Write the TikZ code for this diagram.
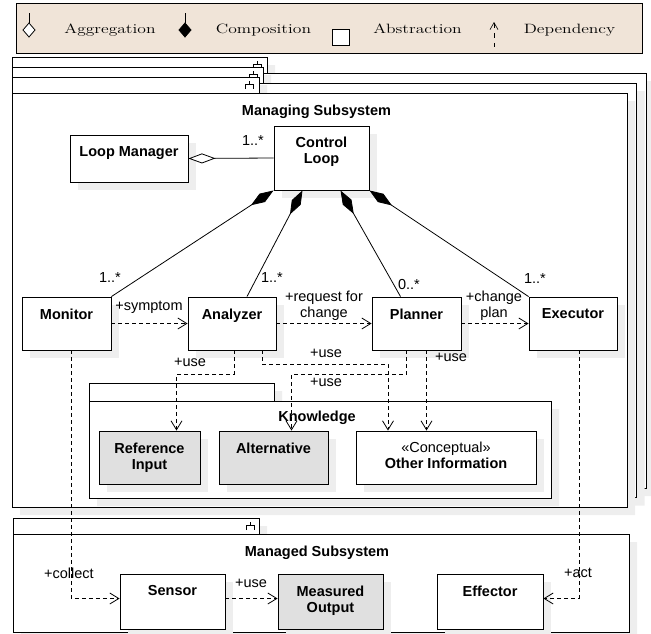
\documentclass[tikz,border=0pt]{standalone}
\usepackage{fontspec}
\usepackage{graphicx}
\usetikzlibrary{arrows.meta,shadows,positioning}
\newfontfamily\umlfont{Liberation Sans}
\newcommand\umltext{\umlfont\fontsize{14.5}{16}\selectfont}
\definecolor{legendbg}{RGB}{240,228,216}
\definecolor{shadowgray}{RGB}{238,238,238}
\definecolor{datagray}{RGB}{224,224,224}
\tikzset{
  umlshadow/.style={general shadow={fill=shadowgray, shadow xshift=8pt, shadow yshift=-8pt}},
  frame/.style={draw, fill=white, line width=0.9pt, umlshadow},
  classbox/.style={draw, fill=white, line width=0.9pt, inner sep=0pt, umlshadow},
  databox/.style={classbox, fill=datagray},
  classname/.style={font=\umltext\bfseries, align=center, inner sep=0pt},
  mult/.style={font=\umltext, inner sep=1pt},
  dep/.style={line width=0.8pt, dash pattern=on 4pt off 3pt, -{Straight Barb[length=9pt,width=11pt]}},
  comp/.style={line width=0.8pt, {Diamond[length=27pt,width=10pt,fill=black]}-},
  aggr/.style={line width=0.8pt, {Diamond[length=27pt,width=10pt,fill=white]}-},
  legendtext/.style={font=\normalfont\fontsize{13.5}{16}\selectfont, anchor=base, inner sep=0pt}
}
\begin{document}
\begin{tikzpicture}[x=1pt, y=-1pt]
  \useasboundingbox (0,0) rectangle (651,633);

  \draw[line width=1pt, fill=legendbg] (16,3) rectangle (642,53);
  \draw[line width=0.8pt] (29,13) -- (29,23);
  \draw[line width=0.8pt, fill=white] (29,23) -- (35,30) -- (29,37) -- (23,30) -- cycle;
  \node[legendtext] (lgAgg) at (110,33) {\scalebox{1.3}[1]{Aggregation}};
  \draw[line width=0.8pt] (185,13) -- (185,23);
  \draw[line width=0.8pt, fill=black] (185,23) -- (191,30) -- (185,37) -- (179,30) -- cycle;
  \node[legendtext] (lgComp) at (263.5,33) {\scalebox{1.3}[1]{Composition}};
  \draw[line width=0.8pt, fill=white] (332,29) rectangle (349,45);
  \node[legendtext] (lgAbs) at (417.5,33) {\scalebox{1.3}[1]{Abstraction}};
  \draw[line width=0.6pt, dash pattern=on 5pt off 5pt, {Straight Barb[length=7pt,width=8pt]}-] (494,22) -- (494,47);
  \node[legendtext] (lgDep) at (569.5,33) {\scalebox{1.3}[1]{Dependency}};

  \draw[frame] (12,57) -| (267,73) -| (646,488) -| cycle;
  \draw[line width=0.9pt] (12,73) -- (267,73);
  \draw[line width=0.8pt] (257,61) -- (257,64) (253,69) |- (261,64) -- (261,69);
  \draw[frame] (12,67) -| (263,83) -| (636.5,497.5) -| cycle;
  \draw[line width=0.9pt] (12,83) -- (263,83);
  \draw[line width=0.8pt] (253,71) -- (253,74) (249,79) |- (257,74) -- (257,79);
  \draw[frame] (12,77) -| (259,93) -| (627,507) -| cycle;
  \draw[line width=0.9pt] (12,93) -- (259,93);
  \draw[line width=0.8pt] (249,81) -- (249,84) (245,89) |- (253,84) -- (253,89);
  \node[classname] (mgTitle) at (316.5,112) {Managing Subsystem};

  \draw[frame] (89,383) -| (274,401) -| (551,498) -| cycle;
  \draw[line width=0.9pt] (89,401) -- (274,401);
  \node[classname] (knTitle) at (317,418) {Knowledge};

  \draw[frame] (13,518) -| (259,534) -| (629,632) -| cycle;
  \draw[line width=0.9pt] (13,534) -- (259,534);
  \draw[line width=0.8pt] (250,522) -- (250,525) (246,530) |- (254,525) -- (254,530);
  \node[classname] (mdTitle) at (317,553) {Managed Subsystem};

  \node[classbox, minimum width=118pt, minimum height=47pt] (lm) at (129,158.5) {};
  \node[classname, below=12pt of lm.north] (lmT) {Loop Manager};
  \node[classbox, minimum width=95pt, minimum height=64pt] (cl) at (321.5,158) {};
  \node[classname, below=11pt of cl.north] (clT) {Control\\Loop};
  \node[classbox, minimum width=89pt, minimum height=53pt] (mon) at (66.5,323.5) {};
  \node[classname, below=12pt of mon.north] (monT) {Monitor};
  \node[classbox, minimum width=88pt, minimum height=53pt] (ana) at (232,323.5) {};
  \node[classname, below=12pt of ana.north] (anaT) {Analyzer};
  \node[classbox, minimum width=89pt, minimum height=53pt] (pla) at (416.5,323.5) {};
  \node[classname, below=12pt of pla.north] (plaT) {Planner};
  \node[classbox, minimum width=88pt, minimum height=53pt] (exe) at (573,323.5) {};
  \node[classname, below=12pt of exe.north] (exeT) {Executor};
  \node[databox, minimum width=101pt, minimum height=53pt] (ref) at (149.5,457.5) {};
  \node[classname, below=12pt of ref.north] (refT) {Reference\\Input};
  \node[databox, minimum width=109pt, minimum height=53pt] (alt) at (273.5,457.5) {};
  \node[classname, below=12pt of alt.north] (altT) {Alternative};
  \node[classbox, minimum width=180pt, minimum height=53pt] (oth) at (446,457.5) {};
  \node[classname, below=11pt of oth.north] (othT) {{\mdseries «Conceptual»}\\Other Information};
  \node[classbox, minimum width=105pt, minimum height=55pt] (sen) at (172.5,601.5) {};
  \node[classname, below=12pt of sen.north] (senT) {Sensor};
  \node[databox, minimum width=105pt, minimum height=55pt] (mo) at (330.5,601.5) {};
  \node[classname, below=12pt of mo.north] (moT) {Measured\\Output};
  \node[classbox, minimum width=106pt, minimum height=55pt] (eff) at (490,601.5) {};
  \node[classname, below=12pt of eff.north] (effT) {Effector};

  \draw[aggr] (lm.east) -- (cl.west);
  \draw[comp] (cl.south west) -- (mon.north east);
  \draw[comp] ([xshift=-19pt]cl.south) -- ([xshift=15pt]ana.north);
  \draw[comp] ([xshift=19pt]cl.south) -- ([xshift=-16pt]pla.north);
  \draw[comp] (cl.south east) -- (exe.north west);
  \node[mult] (m0) at (253,141) {1..*};
  \node[mult] (m1) at (110,277.5) {1..*};
  \node[mult] (m2) at (272,277.5) {1..*};
  \node[mult] (m3) at (409,285) {0..*};
  \node[mult] (m4) at (535,279) {1..*};

  \draw[dep] (mon.east) -- (ana.west);
  \node[mult] (d1) at (149,307) {+symptom};
  \draw[dep] (ana.east) -- (pla.west);
  \node[mult, align=center] (d2) at (324,306) {+request for\\change};
  \draw[dep] (pla.east) -- (exe.west);
  \node[mult, align=center] (d3) at (494,306) {+change\\plan};

  \draw[dep] ([xshift=2pt]ana.south) -- ++(0,24) -| ([xshift=27pt]ref.north);
  \node[mult] (u1) at (190,362) {+use};
  \draw[dep] ([xshift=30pt]ana.south) -- ++(0,14) -| ([xshift=-58pt]oth.north);
  \node[mult] (u2) at (326,353) {+use};
  \draw[dep] ([xshift=-10pt]pla.south) -- ++(0,24) -| ([xshift=18pt]alt.north);
  \node[mult] (u3) at (326,382) {+use};
  \draw[dep] ([xshift=10pt]pla.south) -- ([xshift=10pt]pla.south |- oth.north);
  \node[mult] (u4) at (451,357) {+use};

  \draw[dep] ([xshift=4.5pt]mon.south) |- ([yshift=3pt]sen.west);
  \node[mult] (c1) at (69,573) {+collect};
  \draw[dep] ([yshift=3pt]sen.east) -- ([yshift=3pt]mo.west);
  \node[mult] (c2) at (251,583) {+use};
  \draw[dep] ([xshift=6pt]exe.south) |- ([yshift=3pt]eff.east);
  \node[mult] (c3) at (578,573) {+act};
\end{tikzpicture}
\end{document}
